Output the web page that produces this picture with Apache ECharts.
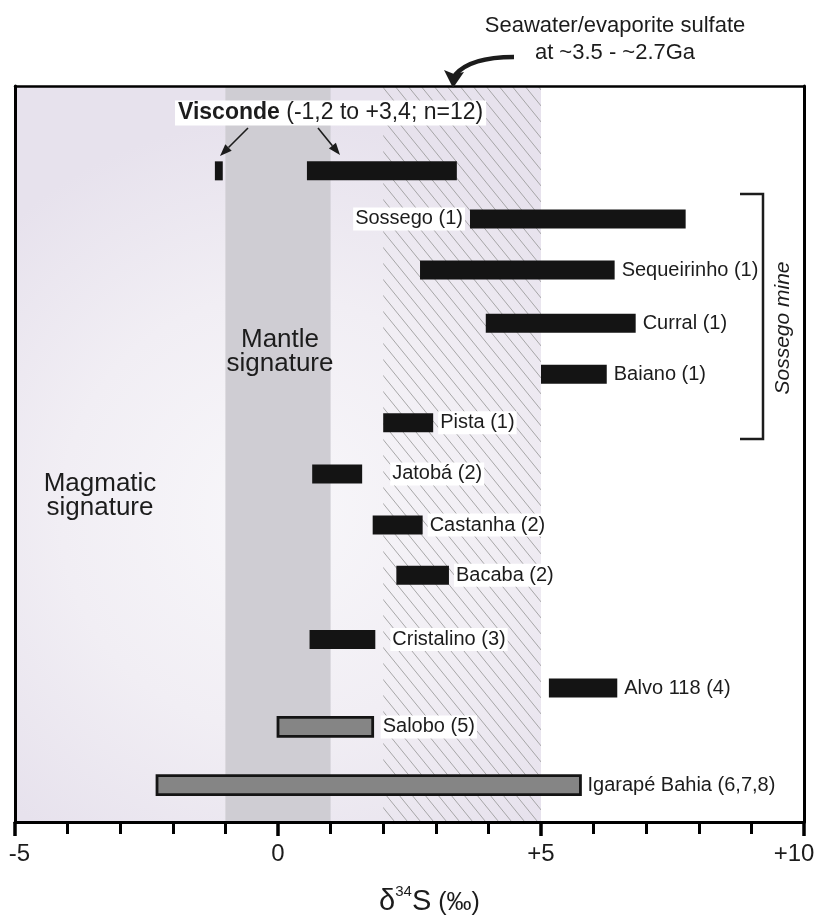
<!DOCTYPE html>
<html>
<head>
<meta charset="utf-8">
<script src="https://cdn.jsdelivr.net/npm/echarts@6/dist/echarts.min.js"></script>
<style>
  html, body { margin: 0; padding: 0; background: #ffffff; }
  #chart { width: 818px; height: 921px; }
</style>
</head>
<body>
<div id="chart"></div>
<script>
// δ34S ranges (‰) of sulfides from Carajás deposits
const sites = ['Sossego (1)', 'Sequeirinho (1)', 'Curral (1)', 'Baiano (1)', 'Pista (1)',
  'Jatobá (2)', 'Castanha (2)', 'Bacaba (2)', 'Cristalino (3)', 'Alvo 118 (4)',
  'Salobo (5)', 'Igarapé Bahia (6,7,8)'];
const rowPos = [2.60, 3.60, 4.64, 5.64, 6.59, 7.59, 8.59, 9.57, 10.83, 11.78, 12.54, 13.68];
const d34Smin = [3.65, 2.7, 3.95, 5.0, 2.0, 0.65, 1.8, 2.25, 0.6, 5.15, 0.0, -2.3];
const d34Smax = [7.75, 6.4, 6.8, 6.25, 2.95, 1.6, 2.75, 3.25, 1.85, 6.45, 1.8, 5.75];

// Visconde: two separate sample clusters
const viscondeRow = 1.66;
const viscondeMin = [-1.2, 0.55];
const viscondeMax = [-1.05, 3.4];

// reference fields (‰)
const magmaticRange = [-5, 5];
const mantleRange = [-1, 1];
const seawaterRange = [2, 5];

const axisMin = -5, axisMax = 10;

// deposits shown as grey outlined bars
const groupB = ['Salobo (5)', 'Igarapé Bahia (6,7,8)'];

const FONT = '"Liberation Sans", Arial, Helvetica, sans-serif';
const INK = '#1c1c1c';

// label placement tweaks
const labelGap = { 'Jatobá (2)': 28, 'Cristalino (3)': 15, 'Salobo (5)': 8 };
const labelOnLeft = { 'Sossego (1)': true };

function hatchTile() {
  const c = document.createElement('canvas');
  c.width = 13; c.height = 16;
  const g = c.getContext('2d');
  g.strokeStyle = '#9a9a9a';
  g.lineWidth = 0.85;
  for (const dx of [-13, 0, 13]) {
    g.beginPath();
    g.moveTo(dx, 0);
    g.lineTo(dx + 13, 16);
    g.stroke();
  }
  return c;
}

const barData = [];
viscondeMin.forEach((v, i) => barData.push([v, viscondeMax[i], viscondeRow, -1]));
sites.forEach((s, i) => barData.push([d34Smin[i], d34Smax[i], rowPos[i], i]));

function renderBar(params, api) {
  const x0 = api.value(0), x1 = api.value(1), row = api.value(2), idx = api.value(3);
  const a = api.coord([x0, row]);
  const b = api.coord([x1, row]);
  const name = idx >= 0 ? sites[idx] : '';
  const grey = groupB.indexOf(name) >= 0;
  const h = 19;
  const kids = [{
    type: 'rect',
    shape: { x: a[0], y: a[1] - h / 2, width: b[0] - a[0], height: h },
    style: grey ? { fill: '#858585', stroke: '#141414', lineWidth: 2.8 } : { fill: '#141414' }
  }];
  if (name) {
    const left = !!labelOnLeft[name];
    const gap = labelGap[name] != null ? labelGap[name] : 5;
    kids.push({
      type: 'text',
      x: left ? a[0] - gap : b[0] + gap,
      y: a[1],
      style: {
        text: name,
        font: '20px ' + FONT,
        fill: INK,
        align: left ? 'right' : 'left',
        verticalAlign: 'middle',
        backgroundColor: '#ffffff',
        padding: [2, 2, 1, 2]
      }
    });
  }
  return { type: 'group', children: kids };
}

function arrow(x1, y1, x2, y2, len, wid) {
  const ang = Math.atan2(y2 - y1, x2 - x1);
  const bx = x2 - len * Math.cos(ang), by = y2 - len * Math.sin(ang);
  const px = -Math.sin(ang) * wid / 2, py = Math.cos(ang) * wid / 2;
  return [
    { type: 'line', shape: { x1: x1, y1: y1, x2: bx, y2: by }, style: { stroke: INK, lineWidth: 1.6 }, z: 20 },
    { type: 'polygon', shape: { points: [[x2, y2], [bx + px, by + py], [bx - px, by - py]] }, style: { fill: INK }, z: 20 }
  ];
}

const chart = echarts.init(document.getElementById('chart'), null, { renderer: 'canvas' });

const option = {
  animation: false,
  backgroundColor: '#ffffff',
  grid: { left: 15, right: 14, top: 86, bottom: 99, containLabel: false, outerBoundsMode: 'none' },
  xAxis: [{
    type: 'value', min: axisMin, max: axisMax, interval: 5, z: 10,
    axisLine: { show: true, onZero: false, lineStyle: { color: '#000', width: 3 } },
    axisTick: { show: true, inside: false, length: 14, lineStyle: { color: '#000', width: 3.5 } },
    minorTick: { show: true, splitNumber: 5, length: 12, lineStyle: { color: '#000', width: 3 } },
    splitLine: { show: false },
    minorSplitLine: { show: false },
    axisLabel: {
      show: true, margin: 20, fontSize: 24, fontFamily: FONT, color: INK,
      showMinLabel: true, showMaxLabel: true,
      formatter: v => v === axisMin ? '{l|' + v + '}' : v === axisMax ? '{r|+' + v + '}' : (v > 0 ? '+' + v : String(v)),
      rich: {
        l: { fontSize: 24, fontFamily: FONT, color: INK, padding: [0, 0, 0, 9] },
        r: { fontSize: 24, fontFamily: FONT, color: INK, padding: [0, 20, 0, 0] }
      }
    },
    name: '{d|δ}{s|34}{d|S}{p| (‰)}',
    nameLocation: 'middle',
    nameGap: 62,
    nameTextStyle: {
      padding: [0, 0, 0, 40],
      rich: {
        d: { fontSize: 29, fontFamily: FONT, color: INK, verticalAlign: 'bottom', lineHeight: 32 },
        s: { fontSize: 15, fontFamily: FONT, color: INK, verticalAlign: 'top', lineHeight: 32, padding: [0, 0, 14, 0] },
        p: { fontSize: 25, fontFamily: FONT, color: INK, verticalAlign: 'bottom', lineHeight: 32 }
      }
    }
  }, {
    type: 'value', position: 'top', min: axisMin, max: axisMax, z: 10,
    axisLine: { show: true, onZero: false, lineStyle: { color: '#000', width: 2.5 } },
    axisTick: { show: false }, axisLabel: { show: false }, splitLine: { show: false }
  }],
  yAxis: [{
    type: 'value', inverse: true, min: 0, max: 14.4, z: 10,
    axisLine: { show: true, onZero: false, lineStyle: { color: '#000', width: 3 } },
    axisTick: { show: false }, axisLabel: { show: false }, splitLine: { show: false }
  }, {
    type: 'value', position: 'right', inverse: true, min: 0, max: 14.4, z: 10,
    axisLine: { show: true, onZero: false, lineStyle: { color: '#000', width: 3 } },
    axisTick: { show: false }, axisLabel: { show: false }, splitLine: { show: false }
  }],
  series: [{
    type: 'line',
    data: [[axisMin, 0]],
    showSymbol: false,
    silent: true,
    z: 1,
    lineStyle: { opacity: 0 },
    markArea: {
      silent: true,
      label: { show: false },
      emphasis: { disabled: true },
      data: [
        [{
          xAxis: magmaticRange[0],
          itemStyle: {
            opacity: 1,
            color: new echarts.graphic.RadialGradient(0.5, 0.58, 0.75, [
              { offset: 0, color: '#f8f7fa' },
              { offset: 0.55, color: '#f1eef4' },
              { offset: 1, color: '#e7e2ed' }
            ])
          }
        }, { xAxis: magmaticRange[1] }],
        [{ xAxis: mantleRange[0], itemStyle: { opacity: 1, color: '#cfcdd3' } }, { xAxis: mantleRange[1] }],
        [{ xAxis: seawaterRange[0], itemStyle: { opacity: 1, color: { image: hatchTile(), repeat: 'repeat' } } }, { xAxis: seawaterRange[1] }]
      ]
    }
  }, {
    type: 'custom',
    z: 3,
    silent: true,
    renderItem: renderBar,
    encode: { x: [0, 1], y: 2 },
    data: barData
  }],
  graphic: [
    {
      type: 'text', x: 615, y: 39, z: 20,
      style: {
        text: 'Seawater/evaporite sulfate\nat ~3.5 - ~2.7Ga',
        font: '22px ' + FONT, fill: INK, align: 'center', verticalAlign: 'middle', lineHeight: 27
      }
    },
    {
      type: 'bezierCurve', z: 20,
      shape: { x1: 514, y1: 57, cpx1: 470, cpy1: 57, x2: 455, y2: 75 },
      style: { stroke: INK, lineWidth: 4.5, fill: null }
    },
    {
      type: 'polygon', z: 20,
      shape: { points: [[453, 88], [444, 70], [454, 74], [464, 72]] },
      style: { fill: INK }
    },
    {
      type: 'text', x: 175, y: 113, z: 20,
      style: {
        text: '{b|Visconde}{r| (-1,2 to +3,4; n=12)}',
        font: '23px ' + FONT,
        rich: {
          b: { fontSize: 23, fontFamily: FONT, fontWeight: 'bold', fill: INK },
          r: { fontSize: 23, fontFamily: FONT, fill: INK }
        },
        verticalAlign: 'middle', backgroundColor: '#ffffff', padding: [1, 3, 1, 3]
      }
    },
    ...arrow(248, 128, 220, 156, 12, 9),
    ...arrow(318, 128, 340, 155, 12, 9),
    {
      type: 'text', x: 100, y: 496, z: 20,
      style: { text: 'Magmatic\nsignature', font: '26px ' + FONT, fill: INK, align: 'center', verticalAlign: 'middle', lineHeight: 24 }
    },
    {
      type: 'text', x: 280, y: 352, z: 20,
      style: { text: 'Mantle\nsignature', font: '26px ' + FONT, fill: INK, align: 'center', verticalAlign: 'middle', lineHeight: 24 }
    },
    {
      type: 'polyline', z: 20,
      shape: { points: [[740, 194], [763, 194], [763, 439], [740, 439]] },
      style: { stroke: INK, lineWidth: 2.5, fill: null }
    },
    {
      type: 'text', x: 783, y: 328, z: 20, rotation: Math.PI / 2,
      style: { text: 'Sossego mine', font: 'italic 21px ' + FONT, fill: INK, align: 'center', verticalAlign: 'middle' }
    }
  ]
};

chart.setOption(option);
</script>
</body>
</html>
